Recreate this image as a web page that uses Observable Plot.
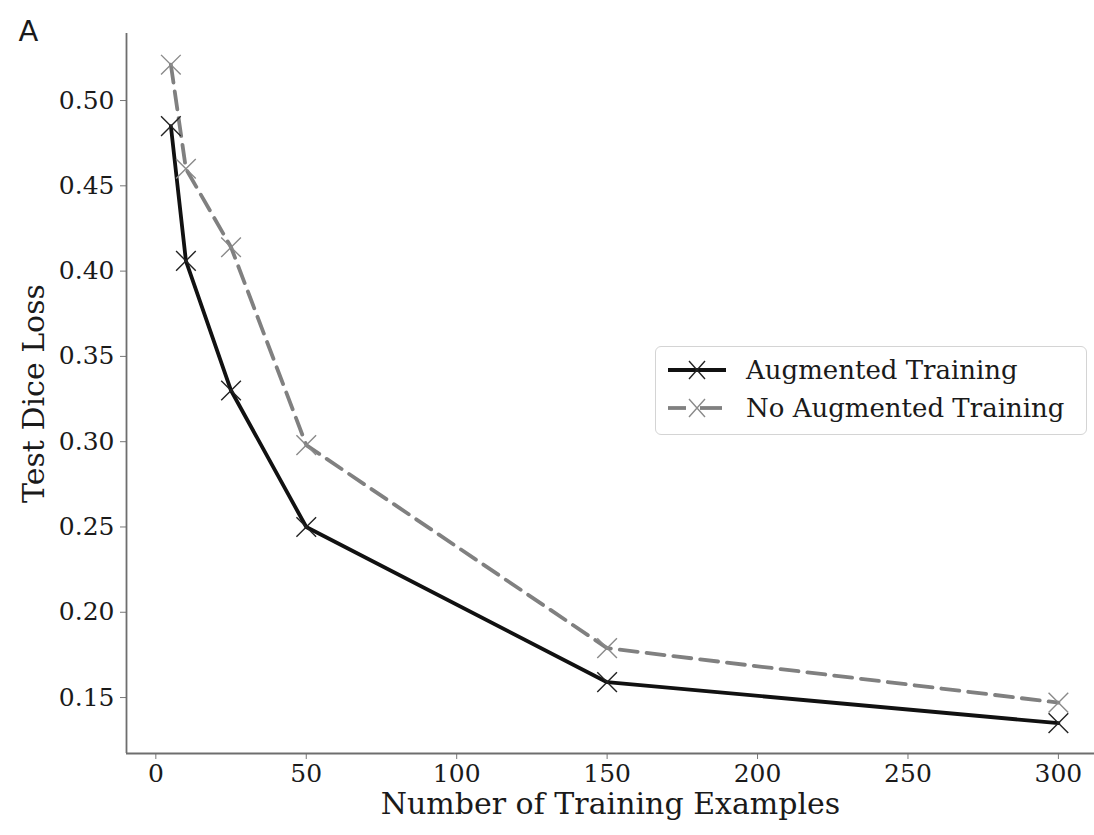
<!DOCTYPE html>
<html>
<head>
<meta charset="utf-8">
<script src="https://cdn.jsdelivr.net/npm/d3@7"></script>
<script src="https://cdn.jsdelivr.net/npm/@observablehq/plot@0.6"></script>
<style>
  html, body { margin: 0; padding: 0; background: #fff; }
  #wrap { position: relative; width: 1094px; height: 835px; overflow: hidden; }
  #legend {
    position: absolute; left: 655px; top: 346px; width: 430px; height: 87px;
    border: 1.5px solid #d4d4d4; border-radius: 6px; background: rgba(255,255,255,0.85);
    font-family: "DejaVu Serif", serif; font-size: 26px; color: #1a1a1a;
  }
  .entry { position: absolute; left: 8px; height: 36px; display: flex; align-items: center; white-space: nowrap; }
  .entry svg { width: 66px; height: 30px; }
  .entry span { margin-left: 16px; }
</style>
</head>
<body>
<div id="wrap">
  <div id="chart"></div>
  <div id="legend">
    <div class="entry" style="top:5px">
      <svg viewBox="0 0 66 30"><line x1="4" y1="15" x2="62" y2="15" stroke="#111" stroke-width="3.8"/>
        <path d="M25,6 L41,24 M41,6 L25,24" stroke="#222" stroke-width="1.4" fill="none"/></svg>
      <span>Augmented Training</span>
    </div>
    <div class="entry" style="top:43px">
      <svg viewBox="0 0 66 30"><line x1="4" y1="15" x2="22" y2="15" stroke="#808080" stroke-width="3.8"/><line x1="36" y1="15" x2="58" y2="15" stroke="#808080" stroke-width="3.8"/>
        <path d="M25,6 L41,24 M41,6 L25,24" stroke="#8a8a8a" stroke-width="1.4" fill="none"/></svg>
      <span>No Augmented Training</span>
    </div>
  </div>
</div>
<script>
const examples = [5, 10, 25, 50, 150, 300];
const augmented = [0.485, 0.406, 0.330, 0.250, 0.159, 0.135];
const noAugmented = [0.521, 0.460, 0.414, 0.298, 0.179, 0.147];
const xTicks = [0, 50, 100, 150, 200, 250, 300];
const yTicks = [0.15, 0.20, 0.25, 0.30, 0.35, 0.40, 0.45, 0.50];
const seriesNames = ["Augmented Training", "No Augmented Training"];

const data = [];
examples.forEach((x, i) => {
  data.push({series: seriesNames[0], x, y: augmented[i]});
  data.push({series: seriesNames[1], x, y: noAugmented[i]});
});
const aug = data.filter(d => d.series === seriesNames[0]);
const noAug = data.filter(d => d.series === seriesNames[1]);

const xDomain = [-9.75, 312];
const yDomain = [0.1172, 0.5393];

const chart = Plot.plot({
  width: 1094,
  height: 835,
  marginLeft: 126,
  marginRight: 0,
  marginTop: 33,
  marginBottom: 82,
  style: {fontFamily: "DejaVu Serif, serif", background: "#fff", color: "#1a1a1a"},
  x: {domain: xDomain, ticks: xTicks},
  y: {domain: yDomain, ticks: yTicks},
  marks: [
    Plot.axisX({ticks: xTicks, tickSize: 6, tickPadding: 5, fontSize: 25, label: null, stroke: "#777"}),
    Plot.axisY({ticks: yTicks, tickSize: 6, tickPadding: 6, fontSize: 25, label: null, tickFormat: d3.format(".2f"), stroke: "#777"}),
    Plot.ruleX([xDomain[0]], {stroke: "#6e6e6e", strokeWidth: 1.8}),
    Plot.ruleY([yDomain[0]], {stroke: "#6e6e6e", strokeWidth: 1.8}),
    Plot.line(noAug, {x: "x", y: "y", stroke: "#808080", strokeWidth: 3.8, strokeDasharray: "18,9"}),
    Plot.line(aug, {x: "x", y: "y", stroke: "#111", strokeWidth: 3.8}),
    Plot.dot(noAug, {x: "x", y: "y", symbol: "times", r: 9, stroke: "#8a8a8a", strokeWidth: 1.4}),
    Plot.dot(aug, {x: "x", y: "y", symbol: "times", r: 9, stroke: "#222", strokeWidth: 1.4}),
    Plot.text(["Number of Training Examples"], {frameAnchor: "bottom", dy: 60, fontSize: 30, fill: "#1a1a1a"}),
    Plot.text(["Test Dice Loss"], {frameAnchor: "left", textAnchor: "middle", dx: -92, rotate: -90, fontSize: 30, fill: "#1a1a1a"}),
    Plot.text(["A"], {frameAnchor: "top-left", dx: -108, dy: -13, fontSize: 29, textAnchor: "start", fontFamily: "DejaVu Sans, sans-serif", fill: "#1a1a1a"})
  ]
});
document.getElementById("chart").appendChild(chart);
</script>
</body>
</html>
